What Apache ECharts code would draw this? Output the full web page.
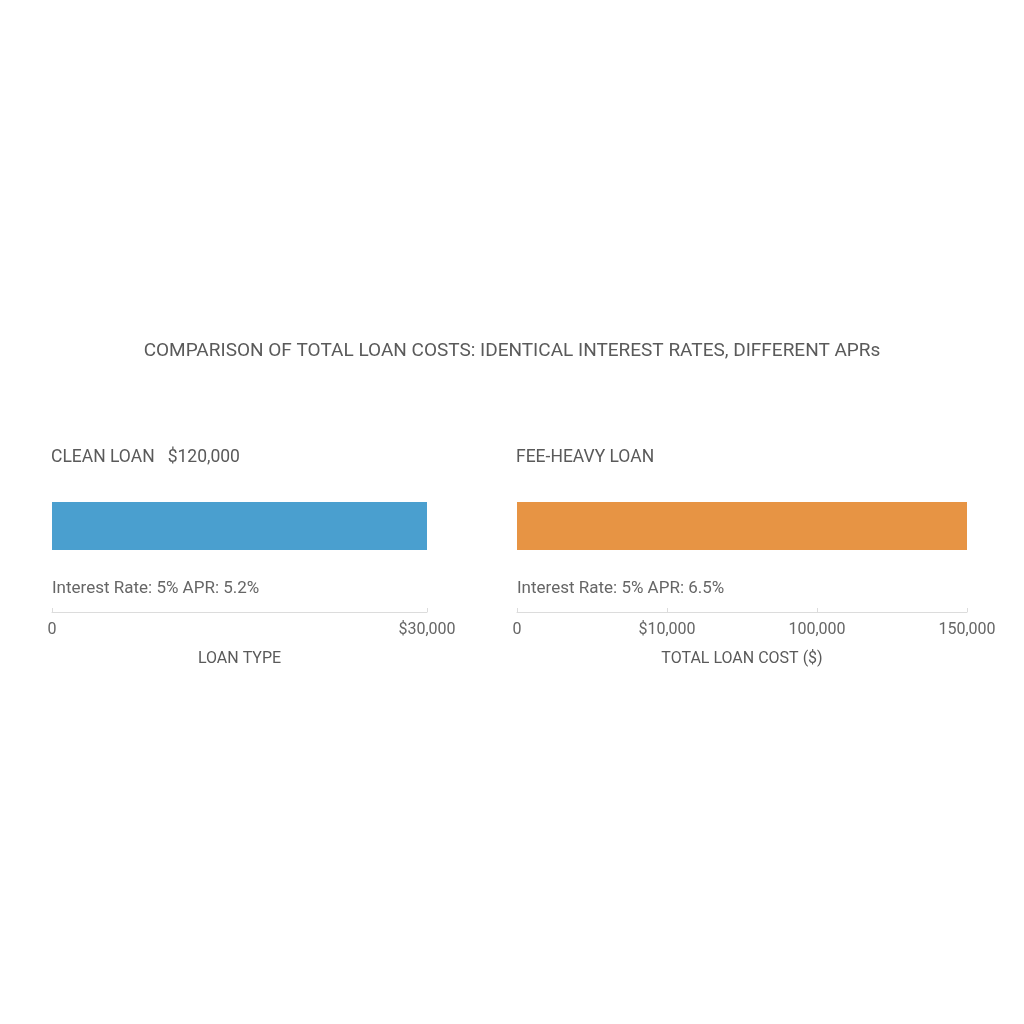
<!DOCTYPE html>
<html>
<head>
<meta charset="utf-8">
<script src="https://cdn.jsdelivr.net/npm/echarts@6/dist/echarts.min.js"></script>
<style>
  html, body { margin: 0; padding: 0; background: #fff; }
  #chart { width: 1024px; height: 1024px; }
</style>
</head>
<body>
<div id="chart"></div>
<script>
// loan panels
const loanNames = ['CLEAN LOAN   $120,000', 'FEE-HEAVY LOAN'];
const rateNotes = ['Interest Rate: 5% APR: 5.2%', 'Interest Rate: 5% APR: 6.5%'];
const barValues = [30000, 150000];
const axisMax = [30000, 150000];
const axisStep = [30000, 50000];
const leftTickLabels = ['0', '$30,000'];
const rightTickLabels = ['0', '$10,000', '100,000', '150,000'];
const axisNames = ['LOAN TYPE', 'TOTAL LOAN COST ($)'];
const barColors = ['#4a9fcf', '#e79444'];

const tickLabels = [leftTickLabels, rightTickLabels];
const panelLeft = [52, 517];
const panelWidth = [375, 450];

const chart = echarts.init(document.getElementById('chart'));

const txt = '#5a5a5a';
const titles = [{
  text: 'COMPARISON OF TOTAL LOAN COSTS: IDENTICAL INTEREST RATES, DIFFERENT APRs',
  left: 'center',
  top: 337,
  textStyle: { fontFamily: 'Roboto', fontSize: 19, fontWeight: 'normal', color: txt }
}];
loanNames.forEach((n, i) => {
  titles.push({
    text: n, left: panelLeft[i] - 6, top: 444,
    textStyle: { fontFamily: 'Roboto', fontSize: 17.5, fontWeight: 'normal', color: txt }
  });
  titles.push({
    text: rateNotes[i], left: panelLeft[i] - 5, top: 575,
    textStyle: { fontFamily: 'Roboto', fontSize: 17, fontWeight: 'normal', color: '#666' }
  });
});

const option = {
  backgroundColor: '#fff',
  animation: false,
  title: titles,
  grid: panelLeft.map((l, i) => ({ left: l, width: panelWidth[i], top: 502, height: 48 })),
  xAxis: barValues.map((v, i) => ({
    type: 'value',
    gridIndex: i,
    min: 0,
    max: axisMax[i],
    interval: axisStep[i],
    offset: 62,
    splitLine: { show: false },
    axisLine: { show: true, lineStyle: { color: '#dcdcdc', width: 1 } },
    axisTick: { show: true, inside: true, length: 4, lineStyle: { color: '#dcdcdc' } },
    axisLabel: {
      margin: 10,
      color: '#666',
      fontFamily: 'Roboto',
      fontSize: 16,
      formatter: val => tickLabels[i][Math.round(val / axisStep[i])] || ''
    },
    name: axisNames[i],
    nameLocation: 'middle',
    nameGap: 39,
    nameTextStyle: { color: txt, fontFamily: 'Roboto', fontSize: 16 }
  })),
  yAxis: barValues.map((v, i) => ({
    type: 'category',
    gridIndex: i,
    data: [loanNames[i]],
    show: false
  })),
  series: barValues.map((v, i) => ({
    type: 'bar',
    xAxisIndex: i,
    yAxisIndex: i,
    data: [v],
    barWidth: 48,
    itemStyle: { color: barColors[i] }
  }))
};

chart.setOption(option);
</script>
</body>
</html>
